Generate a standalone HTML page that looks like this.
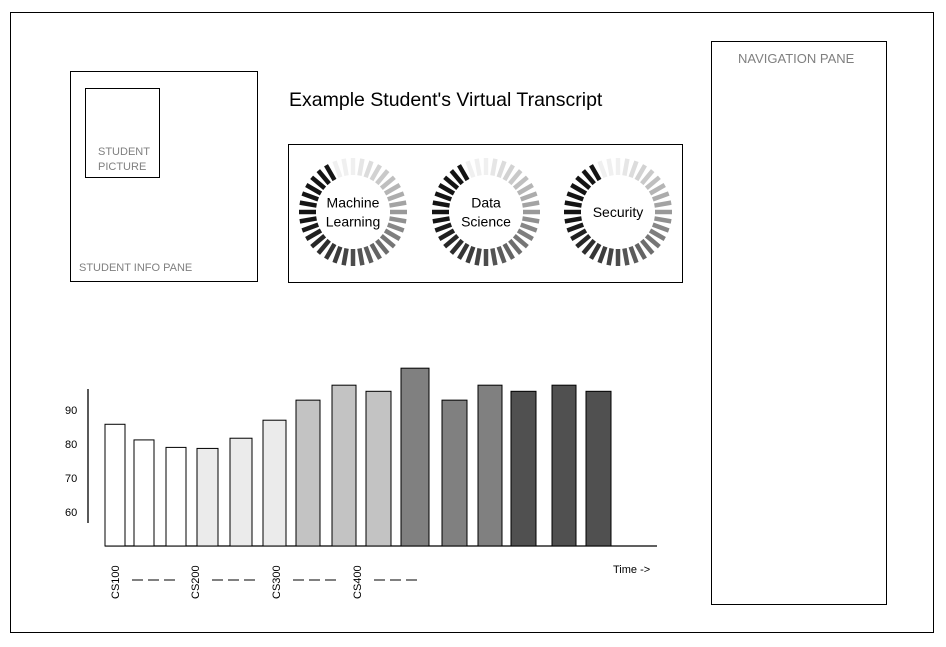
<!DOCTYPE html>
<html><head><meta charset="utf-8">
<style>
html,body{margin:0;padding:0;background:#fff;}
body{width:946px;height:647px;position:relative;overflow:hidden;font-family:"Liberation Sans",sans-serif;}
.box{position:absolute;border:1px solid #000;box-sizing:border-box;}
.lbl{position:absolute;color:#7f7f7f;font-size:11px;}
</style></head><body>
<div class="box" style="left:10px;top:12px;width:924px;height:621px;"></div>
<div class="box" style="left:70px;top:71px;width:188px;height:211px;"></div>
<div class="box" style="left:85px;top:88px;width:75px;height:90px;"></div>
<div class="lbl" style="left:98px;top:145px;line-height:15px;">STUDENT<br>PICTURE</div>
<div class="lbl" style="left:79px;top:262px;">STUDENT INFO PANE</div>
<div class="box" style="left:711px;top:41px;width:176px;height:564px;"></div>
<div class="lbl" style="left:738px;top:51px;font-size:13px;">NAVIGATION PANE</div>
<div style="position:absolute;left:289px;top:89px;font-size:19.5px;color:#000;">Example Student's Virtual Transcript</div>
<div class="box" style="left:288px;top:144px;width:395px;height:139px;"></div>
<svg id="spin" width="946" height="647" style="position:absolute;left:0;top:0"></svg>
<svg id="chart" width="946" height="647" style="position:absolute;left:0;top:0"></svg>
<script>
const skills=["Machine Learning","Data Science","Security"];
const skillCenters=[353,486,618];
const NS="http://www.w3.org/2000/svg";
const sp=document.getElementById('spin');
skills.forEach((s,i)=>{
  const cx=skillCenters[i],cy=212;
  for(let k=0;k<36;k++){
    const th=k*10;
    let t=((330-th)%360+360)%360/330; if(t>1)t=1;
    let g=t<0.2?20:20+220*Math.pow((t-0.2)/0.8,1.2);
    g=Math.round(g);
    const a=th*Math.PI/180, r1=37,r2=54;
    const l=document.createElementNS(NS,'line');
    l.setAttribute('x1',cx+r1*Math.sin(a));l.setAttribute('y1',cy-r1*Math.cos(a));
    l.setAttribute('x2',cx+r2*Math.sin(a));l.setAttribute('y2',cy-r2*Math.cos(a));
    l.setAttribute('stroke',`rgb(${g},${g},${g})`);l.setAttribute('stroke-width','4.5');
    
    
    sp.appendChild(l);
  }
  const words=s.split(' ');
  words.forEach((w,j)=>{
    const tx=document.createElementNS(NS,'text');
    tx.setAttribute('x',cx);tx.setAttribute('y',cy+5+(j-(words.length-1)/2)*19);
    tx.setAttribute('text-anchor','middle');tx.setAttribute('font-size','14');
    tx.setAttribute('font-family','Liberation Sans, sans-serif');
    tx.textContent=w;
    
    
    sp.appendChild(tx);
  });
});

const grades=[85.8,81.2,79,78.7,81.7,87,92.9,97.3,95.5,102.3,92.9,97.3,95.5,97.3,95.5];
const barColors=["#fff","#fff","#fff","#ebebeb","#ebebeb","#ebebeb","#c3c3c3","#c3c3c3","#c3c3c3","#808080","#808080","#808080","#505050","#505050","#505050"];
const yTicks=[90,80,70,60];
const courseLabels=["CS100","CS200","CS300","CS400"];
const barLefts=[105,134,166,197,230,263,296,332,366,401,442,478,511,552,586];
const barWidths=[20,20,20,21,22,23,24,24,25,28,25,24,25,24,25];
const ch=document.getElementById('chart');
const y=v=>546-(v-50)*3.4;
function mk(tag,attrs,name){const e=document.createElementNS(NS,tag);for(const k in attrs)e.setAttribute(k,attrs[k]);ch.appendChild(e);return e;}
mk('line',{x1:88,y1:389,x2:88,y2:523,stroke:'#000','stroke-width':1.3},'y-axis');
mk('line',{x1:105,y1:546,x2:657,y2:546,stroke:'#000','stroke-width':1.3},'x-axis');
yTicks.forEach(v=>{
  const t=mk('text',{x:65,y:y(v)+4,'font-size':11,'font-family':'Liberation Sans, sans-serif'},'y-tick-label');t.textContent=v;
});
grades.forEach((g,i)=>{
  mk('rect',{x:barLefts[i],y:y(g),width:barWidths[i],height:546-y(g),fill:barColors[i],stroke:'#000','stroke-width':1},'grade-bar');
});
const labelX=[119,199,280,361];
courseLabels.forEach((c,i)=>{
  const t=mk('text',{x:0,y:0,'font-size':11,'font-family':'Liberation Sans, sans-serif',transform:`translate(${labelX[i]},599) rotate(-90)`},'course-label');t.textContent=c;
  mk('line',{x1:labelX[i]+13,y1:580,x2:labelX[i]+60,y2:580,stroke:'#000','stroke-width':1,'stroke-dasharray':'11,5'},'course-gap-dashes');
});
const tm=mk('text',{x:613,y:573,'font-size':11,'font-family':'Liberation Sans, sans-serif'},'time-axis-label');tm.textContent='Time ->';
</script>
</body></html>
